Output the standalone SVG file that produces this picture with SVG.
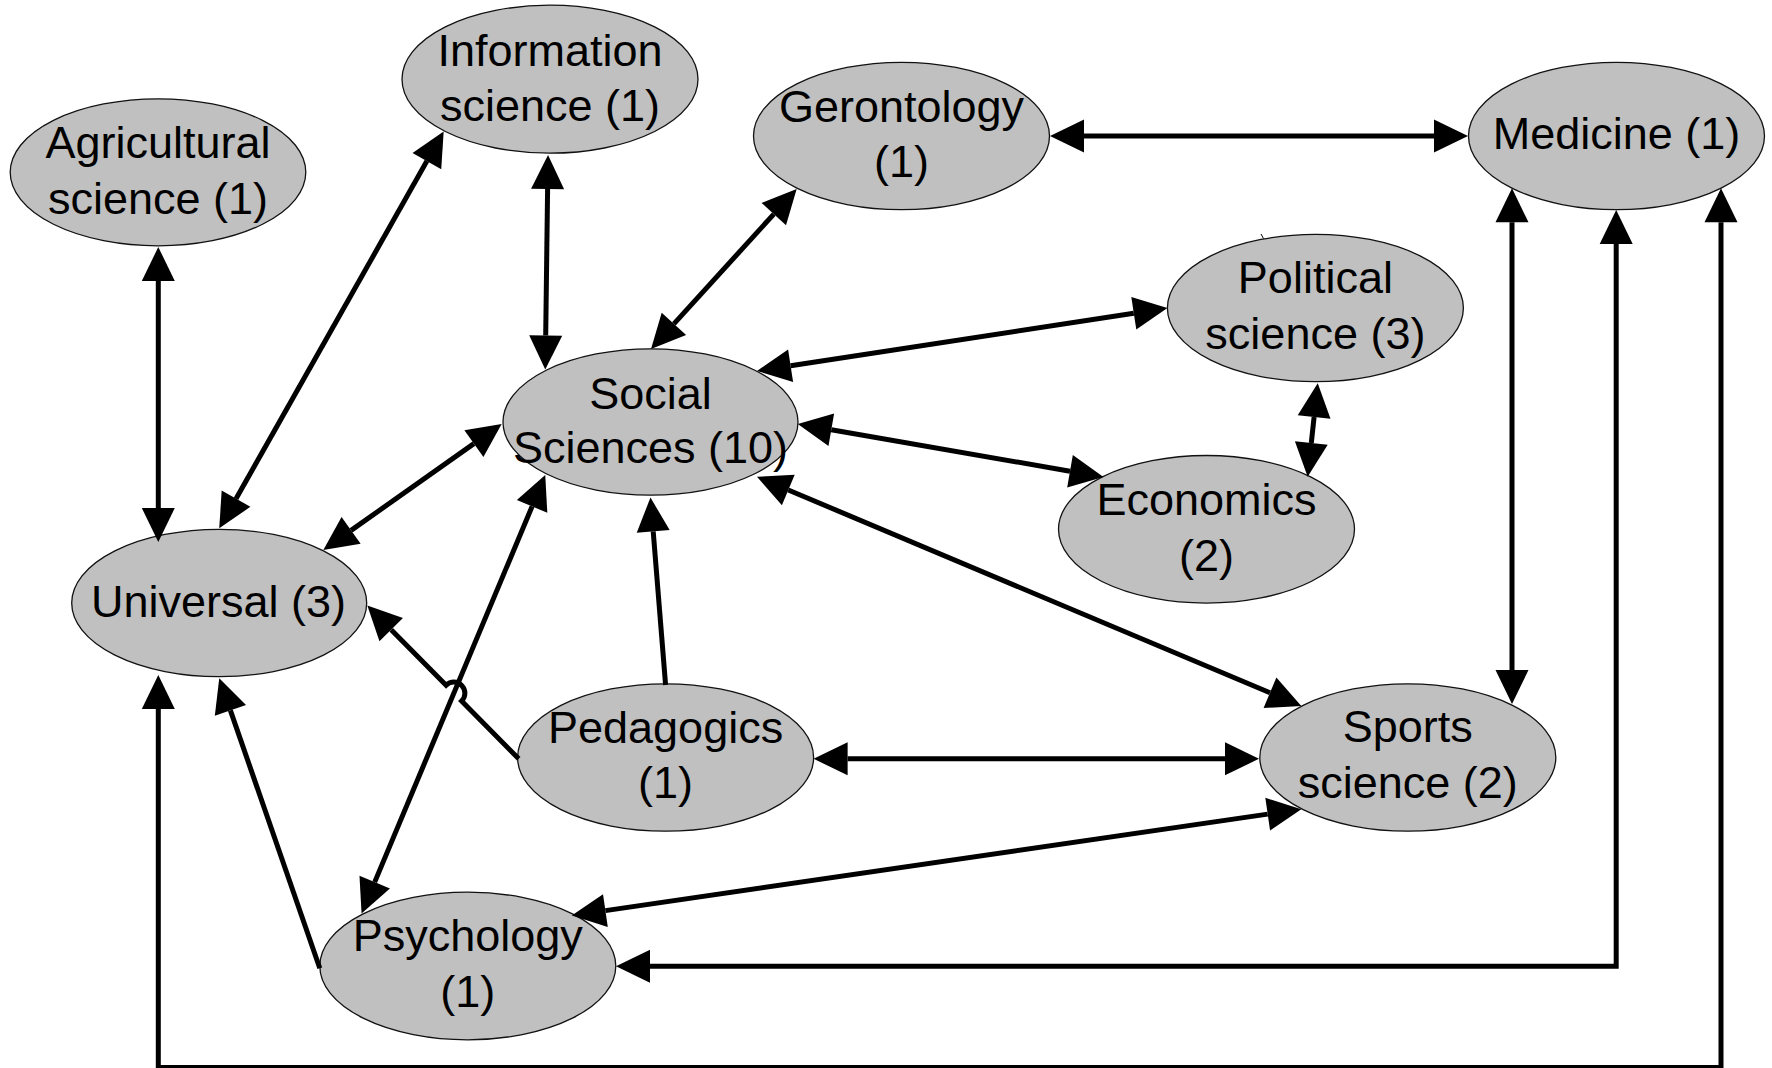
<svg xmlns="http://www.w3.org/2000/svg" width="1772" height="1068" viewBox="0 0 1772 1068">
<style>
.n ellipse{fill:#c0c0c0;stroke:#111;stroke-width:1.3}
.n text{font-family:"Liberation Sans",Arial,sans-serif;font-size:45px;fill:#000;text-anchor:middle}
.c path{fill:none;stroke:#000;stroke-width:5;stroke-linejoin:miter;stroke-linecap:butt}
.c .both{marker-start:url(#ah);marker-end:url(#ah)}
.c .one{marker-end:url(#ah)}
</style>
<defs>
<marker id="ah" markerUnits="userSpaceOnUse" markerWidth="36" markerHeight="36" viewBox="0 -18 36 36" refX="0" refY="0" orient="auto-start-reverse" overflow="visible">
<path d="M0,-16.5 L34,0 L0,16.5 z" fill="#000"/>
</marker>
</defs>
<rect width="1772" height="1068" fill="#fff"/>
<g id="node-agricultural" class="n"><ellipse cx="158" cy="172.3" rx="147.8" ry="73.5"/><text x="158" y="158">Agricultural</text><text x="158" y="213.5">science (1)</text></g>
<g id="node-information" class="n"><ellipse cx="550" cy="79.2" rx="148" ry="74"/><text x="550" y="65.5">Information</text><text x="550" y="120.5">science (1)</text></g>
<g id="node-gerontology" class="n"><ellipse cx="901.5" cy="136" rx="148" ry="73.7"/><text x="901.5" y="122">Gerontology</text><text x="901.5" y="177">(1)</text></g>
<g id="node-medicine" class="n"><ellipse cx="1616.5" cy="136" rx="148" ry="73.7"/><text x="1616.5" y="149">Medicine (1)</text></g>
<g id="node-political" class="n"><ellipse cx="1315.4" cy="308" rx="148" ry="73.7"/><text x="1315.4" y="293">Political</text><text x="1315.4" y="349">science (3)</text></g>
<g id="node-social" class="n"><ellipse cx="650.5" cy="422" rx="147.5" ry="73.2"/><text x="650.5" y="408.5">Social</text><text x="650.5" y="463">Sciences (10)</text></g>
<g id="node-economics" class="n"><ellipse cx="1206.5" cy="529.3" rx="148" ry="73.8"/><text x="1206.5" y="514.5">Economics</text><text x="1206.5" y="571">(2)</text></g>
<g id="node-universal" class="n"><ellipse cx="219.2" cy="603" rx="147.5" ry="73.7"/><text x="218.5" y="616.7">Universal (3)</text></g>
<g id="node-pedagogics" class="n"><ellipse cx="665.6" cy="757.5" rx="148" ry="73.7"/><text x="665.6" y="742.5">Pedagogics</text><text x="665.6" y="798">(1)</text></g>
<g id="node-psychology" class="n"><ellipse cx="467.8" cy="966" rx="148" ry="73.8"/><text x="467.8" y="951">Psychology</text><text x="467.8" y="1007">(1)</text></g>
<g id="node-sports" class="n"><ellipse cx="1407.8" cy="757.5" rx="148" ry="73.7"/><text x="1407.8" y="742">Sports</text><text x="1407.8" y="798">science (2)</text></g>
<g id="connectors" class="c">
<path class="both" d="M158.3,281 L158.3,508"/>
<path class="both" d="M426.9,161.1 L236,498.7"/>
<path class="both" d="M547.6,189 L545.7,335.5"/>
<path class="both" d="M773.8,214.1 L673.9,323.9"/>
<path class="both" d="M1084,136 L1434,136"/>
<path class="both" d="M790.6,365.8 L1133.8,313.2"/>
<path class="both" d="M831.3,429.8 L1070,471.2"/>
<path class="both" d="M1314.1,417 L1311.3,443"/>
<path class="both" d="M473.9,443.6 L351.1,530.4"/>
<path class="both" d="M532.1,506.4 L374.7,882.1"/>
<path class="one" d="M665.6,685 L653.2,531.4"/>
<path class="one" d="M518.7,758.8 L461.6,701 A11,11 0 0 0 446.1,685.3 L391.2,629.7"/>
<path class="both" d="M847.6,758.8 L1225,758.8"/>
<path class="both" d="M788.3,490 L1270,692.8"/>
<path class="both" d="M1512,222.3 L1512,670"/>
<path class="both" d="M605.4,910.6 L1267.7,814.1"/>
<path class="both" d="M650,966.2 L1616.2,966.2 L1616.2,244"/>
<path class="both" d="M158.3,709 L158.3,1067.5 L1721,1067.5 L1721,222.3"/>
<path class="one" d="M319.8,968.3 L230.4,710.4"/>
<path d="M1261,234 L1263.5,238.5" style="stroke-width:1"/>
</g>
</svg>
